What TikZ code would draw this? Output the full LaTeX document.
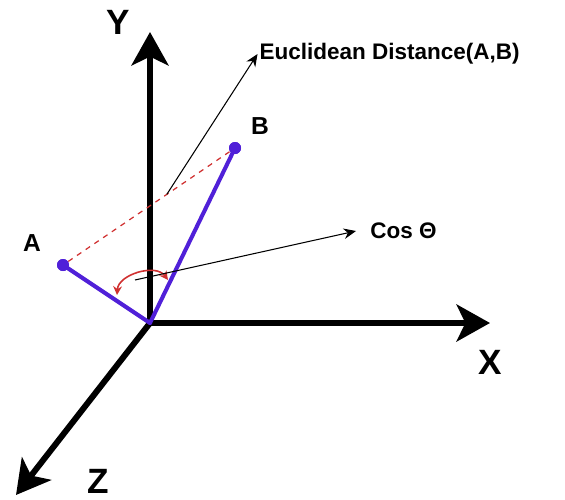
\documentclass[tikz,border=0pt]{standalone}
\usepackage{fontspec}
\setmainfont{Liberation Sans}
\usepackage{xcolor}
\usetikzlibrary{arrows.meta}
\definecolor{vecblue}{HTML}{5020D8}
\definecolor{distred}{HTML}{D03030}

\begin{document}
\begin{tikzpicture}[
    axis/.style={line width=3.4pt, line cap=round, -{Stealth[length=19pt,width=21pt,inset=5pt]}},
    axislabel/.style={font=\bfseries\fontsize{20}{24}\selectfont},
    ptlabel/.style={font=\bfseries\fontsize{14}{17}\selectfont},
    notelabel/.style={font=\bfseries\fontsize{12.8}{15}\selectfont, anchor=west},
    vec/.style={vecblue, line width=2.3pt, line cap=round},
    dot/.style={circle, fill=vecblue, inner sep=0pt, minimum size=0.24cm},
    pointer/.style={line width=0.6pt, -{Stealth[length=7pt,width=6pt]}}
]
\useasboundingbox (0,0) rectangle (11.3,9.98);

% Axes
\coordinate (O) at (3,3.52);
\coordinate (Ytip) at (3,9.34);
\coordinate (Xtip) at (9.8,3.52);
\coordinate (Ztip) at (0.32,0.08);
\draw[axis] (O) -- (Ytip);
\draw[axis] (O) -- (Xtip);
\draw[axis] (O) -- (Ztip);
\node[axislabel] (ylab) at (2.36,9.54) {Y};
\node[axislabel] (xlab) at (9.8,2.74) {X};
\node[axislabel] (zlab) at (1.96,0.36) {Z};

% Vecteurs A et B
\node[dot] (A) at (1.26,4.68) {};
\node[dot] (B) at (4.7,7.02) {};
\draw[vec] (O) -- (A.center);
\draw[vec] (O) -- (B.center);
\node[dot] at (A) {};
\node[dot] at (B) {};
\node[ptlabel] (alab) at (0.64,5.12) {A};
\node[ptlabel] (blab) at (5.2,7.46) {B};

% Distance euclidienne
\draw[distred, dashed, line width=0.7pt] (A) -- coordinate[pos=0.61] (M) (B);
\node[notelabel, inner sep=1pt] (euc) at (5.15,8.9) {Euclidean Distance(A,B)};
\draw[pointer] (M) -- (euc.west);

% Angle
\coordinate (arcR) at (3.36,4.38);
\coordinate (arcL) at (2.34,4.08);
\draw[distred, line width=0.9pt, {Stealth[length=5pt,width=5pt]}-{Stealth[length=5pt,width=5pt]}]
    (arcR) to[bend right=70] (arcL);
\coordinate (c0) at (2.7,4.38);
\node[notelabel, inner sep=1pt, inner xsep=8pt] (cos) at (7.12,5.36) {Cos Θ};
\draw[pointer] (c0) -- (cos.west);
\end{tikzpicture}
\end{document}
